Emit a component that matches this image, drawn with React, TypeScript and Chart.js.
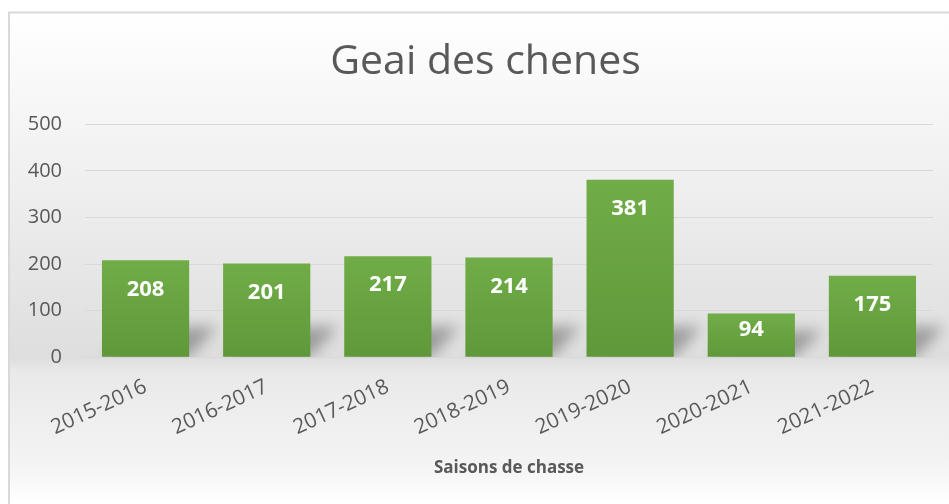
import React, { useEffect, useRef } from "react";
import { Chart, registerables } from "chart.js";

Chart.register(...registerables);

const TITLE = "Geai des chenes";
const X_TITLE = "Saisons de chasse";
const categories = ["2015-2016", "2016-2017", "2017-2018", "2018-2019", "2019-2020", "2020-2021", "2021-2022"];
const values = [208, 201, 217, 214, 381, 94, 175];
const Y_MIN = 0;
const Y_MAX = 500;
const Y_STEP = 100;

const FONT = "'Open Sans', 'Noto Sans', sans-serif";
const TEXT = "#595959";

const bgPlugin = {
  id: "bgPlugin",
  beforeDraw(chart: any) {
    const { ctx, width, height, chartArea } = chart;
    ctx.save();
    const g = ctx.createLinearGradient(0, 12, 0, height);
    const b = chartArea ? (chartArea.bottom - 12) / (height - 12) : 0.7;
    g.addColorStop(0, "#ffffff");
    g.addColorStop(Math.max(0, b - 0.5), "#f6f6f6");
    g.addColorStop(b, "#dedede");
    g.addColorStop(Math.min(1, b + 0.03), "#e9e9e9");
    g.addColorStop(Math.min(1, b + 0.22), "#f4f4f4");
    g.addColorStop(1, "#ffffff");
    ctx.fillStyle = "#ffffff";
    ctx.fillRect(0, 0, width, height);
    ctx.fillStyle = g;
    ctx.fillRect(9, 13, width - 9, height - 13);
    ctx.strokeStyle = "#d9d9d9";
    ctx.lineWidth = 2;
    ctx.beginPath();
    ctx.moveTo(9, height);
    ctx.lineTo(9, 12.5);
    ctx.lineTo(width, 12.5);
    ctx.stroke();
    ctx.restore();
  },
};

const shadowPlugin = {
  id: "shadowPlugin",
  beforeDatasetsDraw(chart: any) {
    const { ctx, chartArea } = chart;
    const meta = chart.getDatasetMeta(0);
    ctx.save();
    ctx.beginPath();
    ctx.rect(chartArea.left - 20, chartArea.top, chartArea.right - chartArea.left + 40, chartArea.bottom - chartArea.top);
    ctx.clip();
    ctx.filter = "blur(7px)";
    ctx.fillStyle = "rgba(0,0,0,0.30)";
    meta.data.forEach((el: any) => {
      const w = el.width;
      const base = el.base;
      const h = Math.min(30, (base - el.y) * 0.6);
      ctx.beginPath();
      ctx.moveTo(el.x - w / 2 + 4, base);
      ctx.lineTo(el.x + w / 2, base);
      ctx.lineTo(el.x + w / 2 + 28, base - h);
      ctx.lineTo(el.x - w / 2 + 32, base - h);
      ctx.closePath();
      ctx.fill();
    });
    ctx.restore();
  },
};

const labelPlugin = {
  id: "labelPlugin",
  afterDatasetsDraw(chart: any) {
    const { ctx } = chart;
    const meta = chart.getDatasetMeta(0);
    ctx.save();
    ctx.fillStyle = "#ffffff";
    ctx.font = `bold 22px ${FONT}`;
    ctx.textAlign = "center";
    ctx.textBaseline = "middle";
    meta.data.forEach((el: any, i: number) => {
      const hgt = el.base - el.y;
      const y = el.y + Math.min(29, hgt * 0.38);
      ctx.fillText(String(values[i]), el.x, y);
    });
    ctx.restore();
  },
};

export default function App() {
  const ref = useRef<HTMLCanvasElement>(null);
  useEffect(() => {
    if (!ref.current) return;
    const chart = new Chart(ref.current, {
      type: "bar",
      data: {
        labels: categories,
        datasets: [
          {
            data: values,
            backgroundColor: (c: any) => {
              const ch = c.chart;
              const ys = ch.scales && ch.scales.y;
              if (!ys || !ch.chartArea || c.raw == null) return "#6aa843";
              const top = ys.getPixelForValue(c.raw);
              const bot = ys.getPixelForValue(0);
              const g = ch.ctx.createLinearGradient(0, top, 0, bot);
              g.addColorStop(0, "#70ad47");
              g.addColorStop(1, "#5f983a");
              return g;
            },
            borderWidth: 0,
            barPercentage: 0.72,
            categoryPercentage: 1,
          },
        ],
      },
      options: {
        animation: false,
        responsive: false,
        maintainAspectRatio: false,
        layout: { padding: { left: 22, right: 0, top: 0, bottom: 22 } },
        plugins: {
          legend: { display: false },
          tooltip: { enabled: false },
          title: {
            display: true,
            text: TITLE,
            color: TEXT,
            font: { family: FONT, size: 41, weight: "normal" },
            padding: { top: 38, bottom: 37 },
          },
        },
        scales: {
          x: {
            grid: { display: false },
            border: { display: false },
            ticks: {
              color: TEXT,
              font: { family: FONT, size: 21 },
              minRotation: 25,
              maxRotation: 25,
              autoSkip: false,
              padding: 9,
            },
            title: {
              display: true,
              text: X_TITLE,
              color: TEXT,
              font: { family: FONT, size: 17, weight: "bold" },
              padding: { top: 8, bottom: 4 },
            },
          },
          y: {
            min: Y_MIN,
            max: Y_MAX,
            afterFit: (s: any) => {
              s.width = 63;
            },
            grid: { color: "#d9d9d9", lineWidth: 1, drawTicks: false },
            border: { display: false },
            ticks: {
              stepSize: Y_STEP,
              color: TEXT,
              font: { family: FONT, size: 20 },
              padding: 23,
            },
          },
          y2: {
            position: "right",
            min: Y_MIN,
            max: Y_MAX,
            afterFit: (s: any) => {
              s.width = 16;
            },
            grid: { display: false },
            border: { display: false },
            ticks: { display: false },
          },
        },
      },
      plugins: [bgPlugin, shadowPlugin, labelPlugin],
    });
    return () => chart.destroy();
  }, []);
  return (
    <div style={{ position: "fixed", left: 0, top: 0, width: 949, height: 504 }}>
      <canvas ref={ref} width={949} height={504} style={{ width: 949, height: 504 }} />
    </div>
  );
}
